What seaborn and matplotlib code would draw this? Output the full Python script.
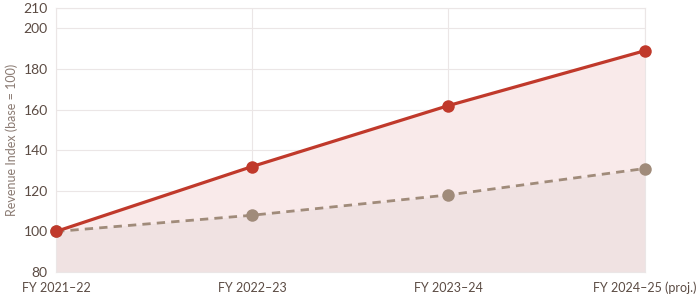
import matplotlib
matplotlib.use("Agg")
import matplotlib.pyplot as plt
import seaborn as sns
import numpy as np
import pandas as pd

categories = ["FY 2021–22", "FY 2022–23", "FY 2023–24", "FY 2024–25 (proj.)"]
series_a = [100, 132, 162, 189]
series_b = [100, 108, 118, 131]
y_ticks = [80, 100, 120, 140, 160, 180, 200, 210]

sns.set_theme(style="white")
plt.rcParams['font.family'] = ['Lato', 'DejaVu Sans']

text_col = "#5b4b43"
red = "#c0392b"
tan = "#a89382"

fig = plt.figure(figsize=(7, 3), dpi=100)
ax = fig.add_axes([0.08, 0.093, 0.841, 0.88])

x = np.arange(len(categories))
df = pd.DataFrame({"x": np.concatenate([x, x]),
                   "y": series_a + series_b,
                   "s": ["a"] * 4 + ["b"] * 4})

ax.fill_between(x, series_a, 80, color="#f9eaea", zorder=1, linewidth=0)
ax.fill_between(x, series_b, 80, color="#f0e2e2", zorder=1.1, linewidth=0)

sns.lineplot(data=df[df.s == "a"], x="x", y="y", ax=ax, color=red, lw=2.3,
             marker="o", markersize=9, markeredgewidth=0, zorder=4, clip_on=False)
sns.lineplot(data=df[df.s == "b"], x="x", y="y", ax=ax, color=tan, lw=2,
             linestyle=(0, (3, 2.2)), marker="o", markersize=9,
             markeredgewidth=0, zorder=3, clip_on=False)
ax.lines[-1].set_color("#a08b7a")

ax.set_xlim(0, 3)
ax.set_ylim(80, 210)
ax.set_yticks(y_ticks)
ax.set_xticks(x)
ax.set_xticklabels(categories)
ax.set_xlabel("")
ax.set_ylabel("Revenue Index (base = 100)", color="#8a7a72", fontsize=9)
ax.grid(True, color="#ebe6e6", lw=0.8, zorder=0)
ax.set_axisbelow(True)
for s in ax.spines.values():
    s.set_color("#ebe6e6")
    s.set_linewidth(0.8)
ax.tick_params(axis="both", colors="#d8d2d2", labelcolor=text_col,
               labelsize=10, length=4, width=0.8)
ax.tick_params(axis="y", pad=2)
ax.tick_params(axis="x", pad=3, labelsize=9)

fig.savefig("out.png", dpi=100)
